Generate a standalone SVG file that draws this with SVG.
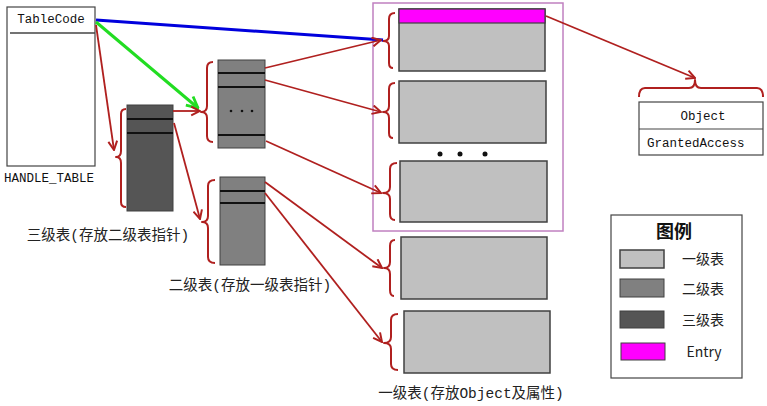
<svg xmlns="http://www.w3.org/2000/svg" width="767" height="406" viewBox="0 0 767 406">
<style>
  .t1{fill:#c0c0c0;stroke:#404040;stroke-width:1.5}
  .t2{fill:#808080;stroke:#404040;stroke-width:1}
  .t3{fill:#555555;stroke:#404040;stroke-width:1}
  .row{stroke:#111;stroke-width:2}
  .brace{fill:none;stroke:#b0201f;stroke-width:2;stroke-linejoin:round}
  .red{fill:none;stroke:#b0201f;stroke-width:1.8}
  .mono{font-family:"Liberation Mono","Noto Sans CJK SC",monospace;font-size:12.5px;fill:#111}
  .cjk{font-family:"Liberation Mono","Noto Sans CJK SC",monospace;font-size:14.5px;fill:#222}
  .lg{font-family:"Noto Sans CJK SC","Liberation Sans",sans-serif;font-size:14px;fill:#222}
</style>
<defs>
  <marker id="ar" viewBox="0 0 10 10" refX="9" refY="5" markerWidth="11" markerHeight="11" markerUnits="userSpaceOnUse" orient="auto">
    <path d="M1,1 L9,5 L1,9" fill="none" stroke="#b0201f" stroke-width="1.8"/>
  </marker>
  <marker id="ag" viewBox="0 0 10 10" refX="9" refY="5" markerWidth="14" markerHeight="14" markerUnits="userSpaceOnUse" orient="auto">
    <path d="M1,1 L9,5 L1,9" fill="none" stroke="#22dd22" stroke-width="2"/>
  </marker>
</defs>
<rect width="767" height="406" fill="#ffffff"/>

<g id="handle_table">
  <rect x="7" y="7" width="88" height="159" fill="#fff" stroke="#444" stroke-width="1.2"/>
  <line x1="10" y1="33" x2="95" y2="33" stroke="#444" stroke-width="1.5"/>
  <text class="mono" x="51" y="23" text-anchor="middle">TableCode</text>
  <text class="mono" x="49" y="182" text-anchor="middle">HANDLE_TABLE</text>
</g>

<g id="level3">
  <rect class="t3" x="127" y="105" width="46" height="106"/>
  <line class="row" x1="127" y1="119" x2="173" y2="119"/>
  <line class="row" x1="127" y1="133" x2="173" y2="133"/>
  <path class="brace" d="M126,109 Q121,109 121,114 L121,151 Q121,157 116,157 Q121,157 121,163 L121,202 Q121,207 126,207"/>
  <text class="cjk" x="108" y="240" text-anchor="middle">三级表(存放二级表指针)</text>
</g>

<g id="level2_a">
  <rect class="t2" x="218" y="60" width="47" height="88"/>
  <line class="row" x1="218" y1="73" x2="265" y2="73"/>
  <line class="row" x1="218" y1="87" x2="265" y2="87"/>
  <line class="row" x1="218" y1="135" x2="265" y2="135"/>
  <circle cx="231" cy="111" r="1.3" fill="#111"/>
  <circle cx="242" cy="111" r="1.3" fill="#111"/>
  <circle cx="252" cy="111" r="1.3" fill="#111"/>
  <path class="brace" d="M213,62 Q207,62 207,68 L207,106 Q207,112 201,112 Q207,112 207,118 L207,136 Q207,142 213,142"/>
</g>

<g id="level2_b">
  <rect class="t2" x="220" y="177" width="45" height="88"/>
  <line class="row" x1="220" y1="191" x2="265" y2="191"/>
  <line class="row" x1="220" y1="203" x2="265" y2="203"/>
  <path class="brace" d="M215,180 Q208,180 208,186 L208,216 Q208,222 202,222 Q208,222 208,228 L208,257 Q208,263 215,263"/>
  <text class="cjk" x="250" y="290" text-anchor="middle">二级表(存放一级表指针)</text>
</g>

<g id="level1_group">
  <rect x="373" y="3" width="190" height="228" fill="none" stroke="#c080c0" stroke-width="1.5"/>
</g>

<g id="level1_1">
  <rect class="t1" x="399" y="9" width="146" height="62"/>
  <rect x="399" y="9" width="146" height="14" fill="#ff00ff" stroke="#404040" stroke-width="1.2"/>
  <path class="brace" d="M395,13 Q389,13 389,19 L389,36 Q389,41 383,41 Q389,41 389,46 L389,63 Q389,68 393,68"/>
</g>

<g id="level1_2">
  <rect class="t1" x="399" y="81" width="147" height="62"/>
  <path class="brace" d="M395,83 Q389,83 389,89 L389,106 Q389,112 383,112 Q389,112 389,118 L389,133 Q389,138 393,138"/>
</g>

<g id="dots">
  <circle cx="440" cy="154" r="2.5" fill="#111"/>
  <circle cx="460" cy="154" r="2.5" fill="#111"/>
  <circle cx="485" cy="154" r="2.5" fill="#111"/>
</g>

<g id="level1_3">
  <rect class="t1" x="400" y="161" width="147" height="61"/>
  <path class="brace" d="M397,163 Q390,163 390,169 L390,187 Q390,193 383,193 Q390,193 390,199 L390,214 Q390,220 395,220"/>
</g>

<g id="level1_4">
  <rect class="t1" x="401" y="237" width="146" height="62"/>
  <path class="brace" d="M395,240 Q390,240 390,246 L390,262 Q390,268 384,268 Q390,268 390,274 L390,290 Q390,296 394,296"/>
</g>

<g id="level1_5">
  <rect class="t1" x="404" y="311" width="146" height="62"/>
  <path class="brace" d="M398,314 Q391,314 391,320 L391,337 Q391,343 384,343 Q391,343 391,349 L391,364 Q391,370 398,370"/>
  <text class="cjk" x="471" y="398" text-anchor="middle">一级表(存放Object及属性)</text>
</g>

<g id="object">
  <path class="brace" d="M639,97 Q639,88 645,88 L689,88 Q695,88 695,80 Q695,88 701,88 L757,88 Q763,88 763,97"/>
  <rect x="639" y="102" width="124" height="53" fill="#fff" stroke="#444" stroke-width="1.2"/>
  <line x1="639" y1="129" x2="763" y2="129" stroke="#444" stroke-width="1.2"/>
  <text class="mono" x="703" y="120" text-anchor="middle">Object</text>
  <text class="mono" x="647" y="147">GrantedAccess</text>
</g>

<g id="legend">
  <rect x="611" y="215" width="131" height="163" fill="#fff" stroke="#444" stroke-width="1.2"/>
  <text x="674" y="238" text-anchor="middle" font-family="Noto Sans CJK SC, Liberation Sans, sans-serif" font-size="18" font-weight="bold" fill="#111">图例</text>
  <rect class="t1" x="620" y="250" width="44" height="18"/>
  <rect class="t2" x="620" y="279" width="44" height="18"/>
  <rect class="t3" x="620" y="311" width="44" height="17"/>
  <rect x="621" y="343" width="44" height="17" fill="#ff00ff" stroke="#404040" stroke-width="1"/>
  <text class="lg" x="703" y="264" text-anchor="middle">一级表</text>
  <text class="lg" x="703" y="294" text-anchor="middle">二级表</text>
  <text class="lg" x="703" y="325" text-anchor="middle">三级表</text>
  <text class="lg" x="704" y="357" text-anchor="middle">Entry</text>
</g>

<g id="connectors">
  <line x1="96" y1="20" x2="383" y2="40" stroke="#0000dd" stroke-width="3"/>
  <line x1="96" y1="22" x2="198" y2="108" stroke="#22dd22" stroke-width="3" marker-end="url(#ag)"/>
  <line class="red" x1="96" y1="25" x2="114" y2="150" marker-end="url(#ar)"/>
  <line class="red" x1="173" y1="111" x2="200" y2="111" marker-end="url(#ar)"/>
  <line class="red" x1="174" y1="123" x2="200" y2="219" marker-end="url(#ar)"/>
  <line class="red" x1="265" y1="68" x2="381" y2="40" marker-end="url(#ar)"/>
  <line class="red" x1="265" y1="80" x2="381" y2="112" marker-end="url(#ar)"/>
  <line class="red" x1="266" y1="141" x2="381" y2="193" marker-end="url(#ar)"/>
  <line class="red" x1="265" y1="182" x2="382" y2="268" marker-end="url(#ar)"/>
  <line class="red" x1="265" y1="193" x2="382" y2="342" marker-end="url(#ar)"/>
  <line class="red" x1="546" y1="16" x2="695" y2="78" marker-end="url(#ar)"/>
</g>
</svg>
